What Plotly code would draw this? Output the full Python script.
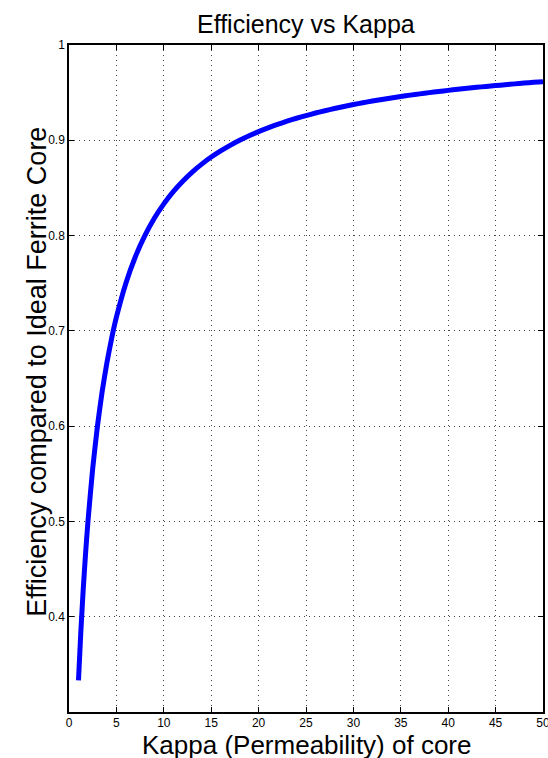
import plotly.graph_objects as go

# Core permeability (kappa) and relative efficiency against an ideal ferrite core
kappa = [1, 1.25, 1.5, 1.75, 2, 2.5, 3, 3.5, 4, 4.5, 5, 6, 7, 8, 9, 10, 11, 12, 13,
         14, 15, 16, 17, 18, 19, 20, 21, 22, 23, 24, 25, 26, 27, 28, 29, 30, 31, 32,
         33, 34, 35, 36, 37, 38, 39, 40, 41, 42, 43, 44, 45, 46, 47, 48, 49, 50]
efficiency = [0.3333, 0.3846, 0.4286, 0.4667, 0.5000, 0.5556, 0.6000, 0.6364,
              0.6667, 0.6923, 0.7143, 0.7500, 0.7778, 0.8000, 0.8182, 0.8333,
              0.8462, 0.8571, 0.8667, 0.8750, 0.8824, 0.8889, 0.8947, 0.9000,
              0.9048, 0.9091, 0.9130, 0.9167, 0.9200, 0.9231, 0.9259, 0.9286,
              0.9310, 0.9333, 0.9355, 0.9375, 0.9394, 0.9412, 0.9429, 0.9444,
              0.9459, 0.9474, 0.9487, 0.9500, 0.9512, 0.9524, 0.9535, 0.9545,
              0.9556, 0.9565, 0.9574, 0.9583, 0.9592, 0.9600, 0.9608, 0.9615]

x_ticks = [0, 5, 10, 15, 20, 25, 30, 35, 40, 45, 50]
y_ticks = [0.4, 0.5, 0.6, 0.7, 0.8, 0.9, 1.0]
y_tick_text = ["0.4", "0.5", "0.6", "0.7", "0.8", "0.9", "1"]

FONT = "Liberation Sans, Arial, Helvetica, sans-serif"

fig = go.Figure()
fig.add_trace(go.Scatter(
    x=kappa, y=efficiency, mode="lines",
    line=dict(color="#0000FF", width=5, shape="spline", smoothing=0.5),
    showlegend=False, hoverinfo="x+y",
))

axis_common = dict(
    showline=True, linecolor="black", linewidth=1.5, mirror="ticks",
    ticks="inside", ticklen=5, tickwidth=1, tickcolor="black",
    showgrid=True, gridcolor="#444444", gridwidth=1, griddash="1px,4px",
    zeroline=False, automargin=False, ticklabeloverflow="allow",
    tickfont=dict(family=FONT, size=12, color="black"),
)

fig.update_layout(
    width=548, height=758,
    margin=dict(l=69, r=5, t=45, b=46, autoexpand=False),
    paper_bgcolor="white", plot_bgcolor="white",
    font=dict(family=FONT, color="black"),
    xaxis=dict(range=[0, 50], tickvals=x_ticks, ticklabelstandoff=-1, **axis_common),
    yaxis=dict(range=[0.3, 1.0], tickvals=y_ticks, ticktext=y_tick_text,
               **axis_common),
    annotations=[
        dict(text="Efficiency vs Kappa", xref="paper", yref="paper",
             x=0.5, y=1.031, xanchor="center", yanchor="middle",
             showarrow=False, font=dict(size=25, family=FONT)),
        dict(text="Kappa (Permeability) of core", xref="paper", yref="paper",
             x=0.5, y=-0.0495, xanchor="center", yanchor="middle",
             showarrow=False, font=dict(size=26, family=FONT)),
        dict(text="Efficiency compared to Ideal Ferrite Core", xref="paper",
             yref="paper", x=-0.0675, y=0.51, xanchor="center", yanchor="middle",
             textangle=-90, showarrow=False, font=dict(size=27, family=FONT)),
    ],
)

fig.write_html("out.html")
